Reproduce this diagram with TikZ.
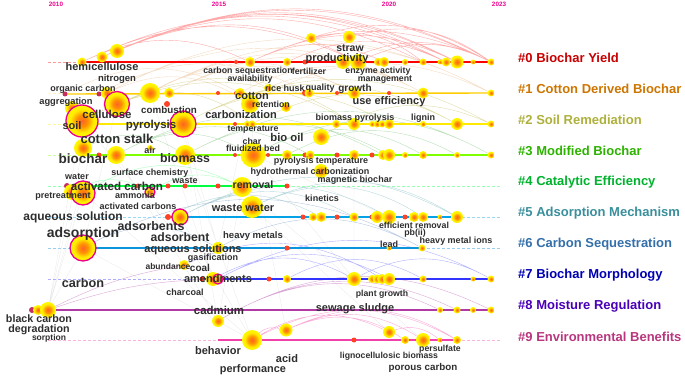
\documentclass[tikz,border=0pt]{standalone}
\usepackage{fontspec}
\setmainfont{Liberation Sans}
\usetikzlibrary{backgrounds}
% timeline colours
\newcommand{\lineA}{red}
\newcommand{\lineB}{orange!40!yellow}
\newcommand{\lineC}{yellow!92!orange}
\newcommand{\lineD}{green!50!yellow}
\newcommand{\lineE}{green!75!cyan}
\newcommand{\lineF}{cyan!92!blue}
\newcommand{\lineG}{cyan!80!blue}
\newcommand{\lineH}{blue!80!white}
\newcommand{\lineI}{magenta!60!blue!80!white}
\newcommand{\lineJ}{magenta!75!white}
% cluster label colours
\newcommand{\clusA}{red!78!black}
\newcommand{\clusB}{orange!85!yellow!80!black}
\newcommand{\clusC}{yellow!90!green!70!black}
\newcommand{\clusD}{green!75!yellow!70!black}
\newcommand{\clusE}{green!75!cyan!70!black}
\newcommand{\clusF}{cyan!75!green!70!black}
\newcommand{\clusG}{cyan!55!blue!80!black}
\newcommand{\clusH}{blue!70!black}
\newcommand{\clusI}{blue!60!magenta!72!black}
\newcommand{\clusJ}{magenta!72!black}
\newcommand{\dotred}{red!75!orange!85!white}
\newcommand{\dotpink}{magenta!60!red!80!black}

\pgfdeclareradialshading{citeball}{\pgfpoint{0bp}{0bp}}{%
	color(0bp)=(red!45!orange!85!white); color(9bp)=(orange!85!yellow);
	color(18bp)=(yellow!85!orange); color(25bp)=(yellow!95!orange); color(50bp)=(yellow!95!orange)}

\tikzset{
	ball/.style={circle, inner sep=0pt, minimum size=#1pt, shade, shading=citeball},
	ringed/.style={draw=magenta, line width=1.3pt},
	dot/.style={circle, inner sep=0pt, minimum size=#1pt, fill=\dotred},
	lab/.style={font=\fontsize{#1}{#1}\selectfont\bfseries, text=black!82, inner sep=0pt},
	clus/.style={font=\fontsize{13}{13}\selectfont\bfseries, anchor=west, inner sep=0pt},
	yr/.style={font=\fontsize{6.3}{6.3}\selectfont\bfseries, text=magenta, inner sep=0pt},
	tl/.style={line width=1.4pt},
	ext/.style={densely dashed, line width=0.5pt},
	arc/.style={line width=0.4pt, opacity=0.55, bend left=#1},
	faint/.style={draw=gray!60, line width=0.3pt, opacity=0.3}
}

\begin{document}
\begin{tikzpicture}[x=1pt,y=-1pt]
	\useasboundingbox (0,0) rectangle (685,377);

	% years
	\node[yr] (y10) at (56,4) {2010};
	\node[yr] (y15) at (219,4) {2015};
	\node[yr] (y20) at (389,4) {2020};
	\node[yr] (y23) at (499,4) {2023};

	% #0
	\node[ball=9] (r0a) at (82,62) {};
	\node[ball=11] (r0b) at (102,57) {};
	\node[ball=14] (r0c) at (117,51) {};
	\node[dot=4] (r0d) at (236,62) {};
	\node[ball=10] (r0e) at (250,62) {};
	\node[ball=8] (r0f) at (287,62) {};
	\node[dot=5] (r0g) at (305,62) {};
	\node[ball=10] (r0h) at (311,38) {};
	\node[ball=14] (r0i) at (343,62) {};
	\node[ball=12] (r0j) at (349,37) {};
	\node[ball=16] (r0k) at (358,62) {};
	\node[ball=8] (r0l) at (378,62) {};
	\node[ball=10] (r0m) at (384,62) {};
	\node[ball=6] (r0n) at (405,62) {};
	\node[ball=7] (r0o) at (423,62) {};
	\node[ball=5] (r0p) at (440,62) {};
	\node[ball=9] (r0q) at (446,62) {};
	\node[ball=13] (r0r) at (457,62) {};
	\node[ball=5] (r0s) at (473,62) {};
	\node[ball=7] (r0t) at (491,62) {};

	% #1
	\node[dot=5, fill=\dotpink] (r1a) at (65,94) {};
	\node[dot=5, fill=\dotpink] (r1b) at (99,94) {};
	\node[ball=12] (r1c) at (107,93) {};
	\node[ball=20] (r1d) at (150,93) {};
	\node[ball=10] (r1e) at (169,93) {};
	\node[dot=6] (r1f) at (167,104) {};
	\node[dot=4] (r1g) at (218,93) {};
	\node[dot=4] (r1h) at (236,93) {};
	\node[ball=10] (r1i) at (240,93) {};
	\node[ball=18] (r1j) at (250,104) {};
	\node[ball=8] (r1k) at (268,88) {};
	\node[ball=10] (r1l) at (286,107) {};
	\node[dot=6] (r1m) at (305,93) {};
	\node[ball=9] (r1n) at (309,93) {};
	\node[dot=4] (r1o) at (337,93) {};
	\node[ball=12] (r1p) at (354,93) {};
	\node[dot=4] (r1q) at (389,93) {};
	\node[ball=11] (r1r) at (423,93) {};
	\node[ball=7] (r1s) at (491,93) {};

	% #2
	\node[ball=14] (r2a) at (72,108) {};
	\node[ball=32, ringed] (r2b) at (82,121) {};
	\node[ball=25, ringed] (r2c) at (117,104) {};
	\node[ball=26, ringed] (r2d) at (183,124) {};
	\node[dot=4] (r2e) at (235,124) {};
	\node[ball=6] (r2f) at (247,124) {};
	\node[ball=7] (r2g) at (252,124) {};
	\node[ball=8] (r2h) at (336,124) {};
	\node[ball=12] (r2i) at (354,124) {};
	\node[ball=6] (r2j) at (372,124) {};
	\node[ball=7] (r2k) at (377,124) {};
	\node[ball=7] (r2l) at (382,124) {};
	\node[ball=10] (r2m) at (389,124) {};
	\node[ball=6] (r2n) at (423,124) {};
	\node[ball=12] (r2o) at (457,124) {};
	\node[ball=7] (r2p) at (491,124) {};
	\node[ball=16] (r2q) at (321,137) {};

	% #3
	\node[ball=18] (r3a) at (83,148) {};
	\node[dot=5] (r3b) at (99,155) {};
	\node[ball=18] (r3c) at (116,155) {};
	\node[ball=6] (r3d) at (150,148) {};
	\node[ball=20] (r3e) at (185,155) {};
	\node[dot=4] (r3f) at (235,155) {};
	\node[ball=25] (r3g) at (253,155) {};
	\node[dot=4] (r3h) at (268,155) {};
	\node[ball=10] (r3i) at (287,155) {};
	\node[dot=5] (r3j) at (305,155) {};
	\node[ball=9] (r3k) at (310,155) {};
	\node[dot=5] (r3l) at (337,155) {};
	\node[ball=10] (r3m) at (354,155) {};
	\node[dot=5] (r3n) at (372,155) {};
	\node[ball=10] (r3o) at (383,155) {};
	\node[ball=12] (r3p) at (389,155) {};
	\node[ball=6] (r3q) at (405,155) {};
	\node[ball=8] (r3r) at (423,155) {};
	\node[ball=6] (r3s) at (457,155) {};
	\node[ball=7] (r3t) at (491,155) {};
	\node[ball=14] (r3u) at (321,171) {};

	% #4
	\node[dot=6, fill=\dotpink] (r4a) at (67,186) {};
	\node[ball=16] (r4b) at (72,192) {};
	\node[ball=24, ringed] (r4c) at (83,193) {};
	\node[dot=5] (r4d) at (138,186) {};
	\node[ball=10, ringed] (r4e) at (150,192) {};
	\node[dot=5] (r4f) at (168,186) {};
	\node[dot=5] (r4g) at (185,186) {};
	\node[dot=5] (r4h) at (218,186) {};
	\node[ball=20] (r4i) at (242,187) {};
	\node[dot=5] (r4j) at (287,186) {};

	% #5
	\node[dot=6] (r5a) at (168,217) {};
	\node[ball=16, ringed] (r5b) at (180,217) {};
	\node[ball=22] (r5c) at (252,207) {};
	\node[dot=5] (r5d) at (303,217) {};
	\node[ball=8] (r5e) at (313,217) {};
	\node[ball=10] (r5f) at (321,217) {};
	\node[dot=5] (r5g) at (337,217) {};
	\node[ball=9] (r5h) at (354,217) {};
	\node[dot=5] (r5i) at (372,217) {};
	\node[ball=12] (r5j) at (377,217) {};
	\node[ball=14] (r5k) at (389,217) {};
	\node[dot=5] (r5l) at (405,217) {};
	\node[ball=10] (r5m) at (414,217) {};
	\node[ball=10] (r5n) at (423,217) {};
	\node[ball=5] (r5o) at (440,217) {};
	\node[ball=12] (r5p) at (457,217) {};

	% #6
	\node[ball=26, ringed] (r6a) at (83,248) {};
	\node[ball=12] (r6b) at (218,248) {};
	\node[dot=5] (r6c) at (287,248) {};
	\node[ball=5] (r6d) at (389,248) {};
	\node[ball=7] (r6e) at (422,248) {};

	% #7
	\node[ball=10] (r7a) at (184,265) {};
	\node[dot=5] (r7b) at (202,279) {};
	\node[ball=14] (r7c) at (213,279) {};
	\node[ball=10, ringed] (r7d) at (218,279) {};
	\node[dot=5] (r7e) at (269,279) {};
	\node[ball=8] (r7f) at (287,279) {};
	\node[ball=14] (r7g) at (354,279) {};
	\node[ball=8] (r7h) at (372,279) {};
	\node[ball=9] (r7i) at (377,279) {};
	\node[ball=10] (r7j) at (382,279) {};
	\node[ball=12] (r7k) at (389,279) {};
	\node[ball=7] (r7l) at (423,279) {};
	\node[ball=5] (r7m) at (473,279) {};
	\node[ball=7] (r7n) at (491,279) {};

	% #8
	\node[dot=6, fill=\dotpink] (r8a) at (32,310) {};
	\node[ball=10] (r8b) at (38,310) {};
	\node[ball=16] (r8c) at (48,310) {};
	\node[ball=12] (r8d) at (218,321) {};
	\node[ball=6] (r8e) at (440,310) {};
	\node[ball=7] (r8f) at (457,310) {};
	\node[ball=6] (r8g) at (473,310) {};
	\node[ball=7] (r8h) at (491,310) {};

	% #9
	\node[ball=20] (r9a) at (252,340) {};
	\node[ball=13] (r9b) at (286,330) {};
	\node[dot=5] (r9c) at (354,340) {};
	\node[ball=12] (r9d) at (389,332) {};
	\node[ball=8] (r9e) at (405,340) {};
	\node[ball=14] (r9f) at (423,340) {};
	\node[ball=5] (r9g) at (440,340) {};
	\node[ball=8] (r9h) at (457,340) {};

	\begin{pgfonlayer}{background}
		% links between clusters
		\draw[faint] (r2b) -- (r8c) (r3a) -- (r8c) (r4c) -- (r8c) (r6a) -- (r8c)
			(r2c) -- (r6a) (r1d) -- (r7c) (r3e) -- (r9a) (r2d) -- (r8d)
			(r4c) -- (r9a) (r3g) -- (r9b) (r6a) -- (r9a) (r1c) -- (r8c)
			(r5c) -- (r9d) (r3g) -- (r7g) (r2d) -- (r6b) (r4i) -- (r8d)
			(r2b) -- (r7c) (r3c) -- (r8d) (r4i) -- (r9f) (r5b) -- (r9a)
			(r3g) -- (r5k) (r2i) -- (r7g) (r1j) -- (r6b) (r0e) -- (r3g);
		% arcs in each cluster
		\draw[arc=25, draw=red!60!white] (r0c) to (r0t) (r0c) to (r0r) (r0c) to (r0q)
			(r0b) to (r0t) (r0b) to (r0o) (r0a) to (r0k) (r0c) to (r0k) (r0e) to (r0r)
			(r0e) to (r0t) (r0h) to (r0t) (r0j) to (r0t) (r0i) to (r0t) (r0e) to (r0m)
			(r0f) to (r0q) (r0h) to (r0o) (r0k) to (r0t) (r0a) to (r0e)
			(r0b) to (r0r) (r0a) to (r0q);
		\draw[arc=28, draw=brown!60!orange!50!white] (r1c) to (r1r) (r1d) to (r1r)
			(r1d) to (r1p) (r1d) to (r1s) (r1c) to (r1j) (r1d) to (r1k) (r1e) to (r1p)
			(r1c) to (r1s) (r1i) to (r1r) (r1j) to (r1s) (r1k) to (r1p) (r1b) to (r1n)
			(r1a) to (r1i) (r1e) to (r1r);
		\draw[arc=28, draw=olive!50!white] (r2b) to (r2i) (r2c) to (r2i) (r2d) to (r2o)
			(r2d) to (r2m) (r2c) to (r2g) (r2d) to (r2p) (r2g) to (r2o) (r2q) to (r2p);
		\draw[arc=28, draw=green!55!black!50!white] (r3c) to (r3g) (r3e) to (r3p)
			(r3e) to (r3t) (r3g) to (r3t) (r3c) to (r3o) (r3a) to (r3e) (r3g) to (r3r)
			(r3i) to (r3s) (r3c) to (r3k);
		\draw[arc=28, draw=\lineE!60!white] (r4c) to (r4i) (r4b) to (r4e) (r4e) to (r4i);
		\draw[arc=28, draw=\clusF!60!white] (r5b) to (r5p) (r5b) to (r5k) (r5c) to (r5n)
			(r5b) to (r5h) (r5c) to (r5p) (r5a) to (r5f);
		\draw[arc=28, draw=\clusG!60!white] (r6a) to (r6b) (r6a) to (r6e) (r6b) to (r6e);
		\draw[arc=28, draw=\lineH!70!white] (r7d) to (r7k) (r7d) to (r7n) (r7c) to (r7g)
			(r7f) to (r7l) (r7g) to (r7n) (r7a) to (r7j);
		\draw[arc=28, draw=\lineI!80!white] (r8d) to (r8h) (r8d) to (r8f) (r8d) to (r8e);
		\draw[arc=8, draw=\lineI!80!white] (r8c) to (r7c) (r8c) to (r7a);
		\draw[arc=28, draw=\lineJ!80!white] (r9a) to (r9h) (r9b) to (r9h) (r9b) to (r9f)
			(r9a) to (r9d) (r9d) to (r9g) (r9b) to (r9e) (r9a) to (r9b);
		% timelines
		\draw[ext, \lineA!40!white] (48,62) -- (r0a.center);
		\draw[tl, \lineA] (r0a.center) -- (r0t.center);
		\draw[ext, \lineB!40!white] (48,93) -- (r1a.center);
		\draw[tl, \lineB] (r1a.center) -- (r1s.center);
		\draw[ext, \lineC!40!white] (48,124) -- (72,124);
		\draw[tl, \lineC] (72,124) -- (r2p.center);
		\draw[ext, \lineD!40!white] (48,155) -- (83,155);
		\draw[tl, \lineD] (83,155) -- (r3t.center);
		\draw[ext, \lineE!40!white] (48,186) -- (r4a.center) (r4j.center) -- (500,186);
		\draw[tl, \lineE] (r4a.center) -- (r4j.center);
		\draw[ext, \lineF!40!white] (48,217) -- (r5a.center) (r5p.center) -- (500,217);
		\draw[tl, \lineF] (r5a.center) -- (r5p.center);
		\draw[ext, \lineG!40!white] (48,248) -- (r6a.center) (r6e.center) -- (500,248);
		\draw[tl, \lineG] (r6a.center) -- (r6e.center);
		\draw[ext, \lineH!40!white] (48,279) -- (r7b.center);
		\draw[tl, \lineH] (r7b.center) -- (r7n.center);
		\draw[tl, \lineI] (r8a.center) -- (r8h.center);
		\draw[ext, \lineJ!40!white] (48,340) -- (218,340) (r9h.center) -- (500,340);
		\draw[tl, \lineJ] (218,340) -- (r9h.center);
	\end{pgfonlayer}

	% terms of #0
	\node[lab=11] (l0a) at (102,67) {hemicellulose};
	\node[lab=8.8] (l0b) at (248,71) {carbon sequestration};
	\node[lab=8.8] (l0c) at (250,79.5) {availability};
	\node[lab=8.8] (l0d) at (309,71) {fertilizer};
	\node[lab=11] (l0e) at (337,59) {productivity};
	\node[lab=10.5] (l0f) at (350,48) {straw};
	\node[lab=8.8] (l0g) at (378,71) {enzyme activity};
	\node[lab=8.8] (l0h) at (385,79.5) {management};
	% terms of #1
	\node[lab=9.5] (l1a) at (117,79) {nitrogen};
	\node[lab=9] (l1b) at (83,89) {organic carbon};
	\node[lab=9.3] (l1c) at (66,102) {aggregation};
	\node[lab=11.5] (l1d) at (107,114) {cellulose};
	\node[lab=9.8] (l1e) at (169,110) {combustion};
	\node[lab=9] (l1f) at (285,88) {rice husk};
	\node[lab=9] (l1g) at (320,88) {quality};
	\node[lab=10] (l1h) at (355,89) {growth};
	\node[lab=11] (l1i) at (252,95.5) {cotton};
	\node[lab=8.8] (l1j) at (271,104.5) {retention};
	\node[lab=11] (l1k) at (241,115) {carbonization};
	\node[lab=11] (l1l) at (389,102) {use efficiency};
	% terms of #2
	\node[lab=11] (l2a) at (72,126) {soil};
	\node[lab=11.5] (l2b) at (151,126) {pyrolysis};
	\node[lab=8.8] (l2c) at (253,130) {temperature};
	\node[lab=9] (l2d) at (355,118) {biomass pyrolysis};
	\node[lab=9] (l2e) at (423,118) {lignin};
	\node[lab=11.3] (l2f) at (287,137) {bio oil};
	\node[lab=8.8] (l2g) at (252,141) {char};
	\node[lab=8.8] (l2h) at (253,148.5) {fluidized bed};
	% terms of #3
	\node[lab=13] (l3a) at (117,139) {cotton stalk};
	\node[lab=13.5] (l3b) at (83,159) {biochar};
	\node[lab=9] (l3c) at (150,150) {air};
	\node[lab=12.3] (l3d) at (185,158) {biomass};
	\node[lab=9] (l3e) at (321,161) {pyrolysis temperature};
	\node[lab=9] (l3f) at (310,172) {hydrothermal carbonization};
	\node[lab=9] (l3g) at (355,180) {magnetic biochar};
	% terms of #4
	\node[lab=9] (l4a) at (77,177) {water};
	\node[lab=9] (l4b) at (150,173) {surface chemistry};
	\node[lab=9] (l4c) at (185,181) {waste};
	\node[lab=11.6] (l4d) at (117,186) {activated carbon};
	\node[lab=9] (l4e) at (63,196.5) {pretreatment};
	\node[lab=9] (l4f) at (135,195) {ammonia};
	\node[lab=10.6] (l4g) at (253,185) {removal};
	\node[lab=9] (l4h) at (138,206) {activated carbons};
	% terms of #5
	\node[lab=12] (l5a) at (73,217) {aqueous solution};
	\node[lab=12.4] (l5b) at (151,226) {adsorbents};
	\node[lab=11] (l5c) at (243,208) {waste water};
	\node[lab=9] (l5d) at (322,198) {kinetics};
	\node[lab=8.8] (l5e) at (414,225) {efficient removal};
	\node[lab=8.8] (l5f) at (415,233.5) {pb(ii)};
	% terms of #6
	\node[lab=14] (l6a) at (83,234) {adsorption};
	\node[lab=12.2] (l6b) at (180,237.5) {adsorbent};
	\node[lab=11] (l6c) at (193,250) {aqueous solutions};
	\node[lab=9.5] (l6d) at (253,236) {heavy metals};
	\node[lab=9] (l6e) at (389,244) {lead};
	\node[lab=9] (l6f) at (456,241) {heavy metal ions};
	\node[lab=9] (l6g) at (213,258.5) {gasification};
	% terms of #7
	\node[lab=8.5] (l7a) at (168,266) {abundance};
	\node[lab=10] (l7b) at (200,268) {coal};
	\node[lab=11] (l7c) at (218,279) {amendments};
	\node[lab=9] (l7d) at (185,292) {charcoal};
	\node[lab=12.7] (l7e) at (83,283) {carbon};
	\node[lab=8.7] (l7f) at (382,294) {plant growth};
	% terms of #8
	\node[lab=10.7] (l8a) at (39,319) {black carbon};
	\node[lab=10.7] (l8b) at (39,330) {degradation};
	\node[lab=8.5] (l8c) at (49,338) {sorption};
	\node[lab=11.4] (l8d) at (219,310) {cadmium};
	\node[lab=11] (l8e) at (355,309) {sewage sludge};
	% terms of #9
	\node[lab=11] (l9a) at (218,351) {behavior};
	\node[lab=11] (l9b) at (287,359) {acid};
	\node[lab=10.9] (l9c) at (253,370) {performance};
	\node[lab=8.7] (l9d) at (389,356) {lignocellulosic biomass};
	\node[lab=8.7] (l9e) at (440,349) {persulfate};
	\node[lab=9.8] (l9f) at (423,368) {porous carbon};

	% cluster names
	\node[clus, text=\clusA] (c0) at (518,58) {\#0 Biochar Yield};
	\node[clus, text=\clusB] (c1) at (518,89) {\#1 Cotton Derived Biochar};
	\node[clus, text=\clusC] (c2) at (518,120) {\#2 Soil Remediation};
	\node[clus, text=\clusD] (c3) at (518,151) {\#3 Modified Biochar};
	\node[clus, text=\clusE] (c4) at (518,182) {\#4 Catalytic Efficiency};
	\node[clus, text=\clusF] (c5) at (518,213) {\#5 Adsorption Mechanism};
	\node[clus, text=\clusG] (c6) at (518,244) {\#6 Carbon Sequestration};
	\node[clus, text=\clusH] (c7) at (518,275) {\#7 Biochar Morphology};
	\node[clus, text=\clusI] (c8) at (518,306) {\#8 Moisture Regulation};
	\node[clus, text=\clusJ] (c9) at (518,337) {\#9 Environmental Benefits};
\end{tikzpicture}
\end{document}
